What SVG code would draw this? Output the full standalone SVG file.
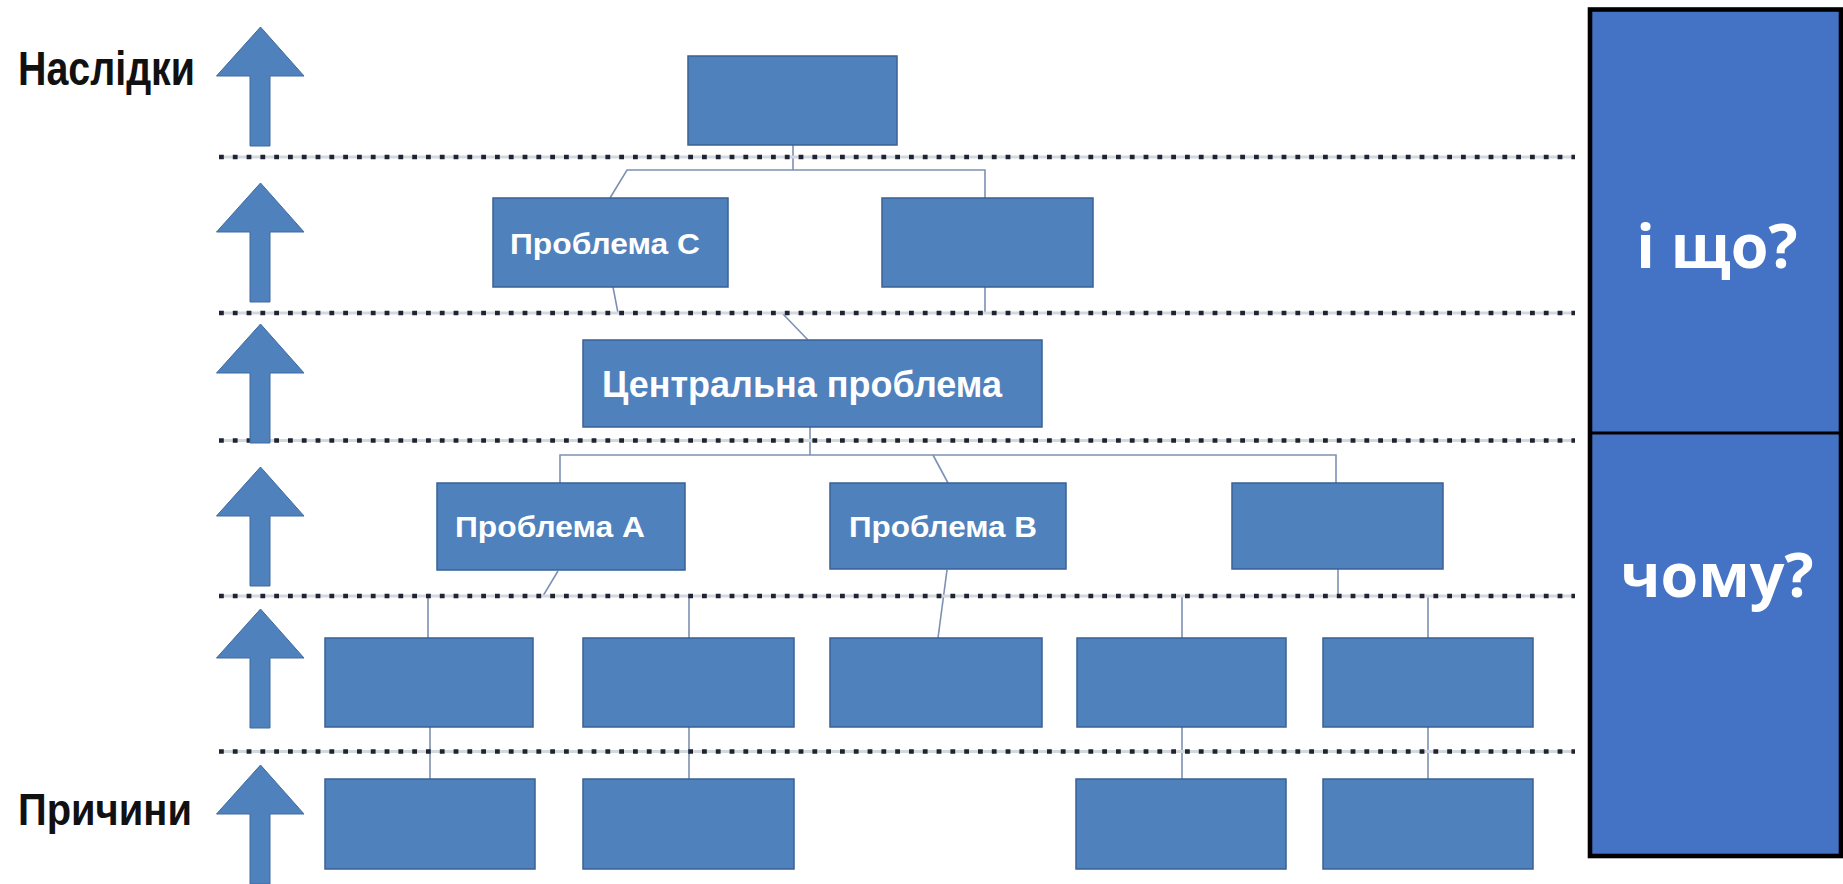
<svg xmlns="http://www.w3.org/2000/svg" xmlns:xlink="http://www.w3.org/1999/xlink" width="1843" height="884" viewBox="0 0 1843 884">
  <style>
    .box { fill: #4F81BD; stroke: #3A6294; stroke-width: 1.5; }
    .lbl { font-family: "Liberation Sans", Arial, sans-serif; font-weight: bold; fill: #FFFFFF; }
    .side { font-family: "Liberation Sans", Arial, sans-serif; font-weight: bold; fill: #111111; }
    .dotsbg { stroke: #D3D7DE; stroke-width: 3; fill: none; }
    .dots { stroke: #1E2432; stroke-width: 4.6; stroke-dasharray: 4.8 9; fill: none; }
    .conn { stroke: #7D91B3; stroke-width: 1.6; fill: none; }
    .arrow { fill: #4F81BD; stroke: #3F6AA0; stroke-width: 1; }
    .panel { fill: #4472C4; stroke: #000000; stroke-width: 4.6; }
    .ptxt { font-family: "Open Sans", "Noto Sans", sans-serif; font-weight: bold; fill: #FFFFFF; font-size: 61px; text-anchor: middle; }
  </style>
  <defs>
    <path id="uparrow" d="M0,0 L43.5,49 L9.5,49 L9.5,119 L-10.5,119 L-10.5,49 L-44,49 Z"/>
  </defs>
  <rect x="0" y="0" width="1843" height="884" fill="#FFFFFF"/>

  <!-- connectors (drawn under the dotted lines) -->
  <g id="connectors">
    <path class="conn" d="M793,145 V170"/>
    <path class="conn" d="M610,198 L627,170 H985 V198"/>
    <path class="conn" d="M613,287 L618,313 H782 L808,340"/>
    <path class="conn" d="M985,287 V313 H782"/>
    <path class="conn" d="M810,427 V455"/>
    <path class="conn" d="M560,483 V455 H1336 V483"/>
    <path class="conn" d="M933,455 L948,483"/>
    <path class="conn" d="M558,571 L543,596 H428"/>
    <path class="conn" d="M428,638 V596 H689 V638"/>
    <path class="conn" d="M947,570 L938,638"/>
    <path class="conn" d="M1338,569 V596"/>
    <path class="conn" d="M1182,638 V596 H1428 V638"/>
    <path class="conn" d="M430,727 V779"/>
    <path class="conn" d="M689,727 V779"/>
    <path class="conn" d="M1182,727 V779"/>
    <path class="conn" d="M1428,727 V779"/>
  </g>

  <g id="separators">
    <line class="dotsbg" x1="219" y1="157" x2="1575" y2="157"/>
    <line class="dotsbg" x1="219" y1="313" x2="1575" y2="313"/>
    <line class="dotsbg" x1="219" y1="440.5" x2="1575" y2="440.5"/>
    <line class="dotsbg" x1="219" y1="596" x2="1575" y2="596"/>
    <line class="dotsbg" x1="219" y1="751.5" x2="1575" y2="751.5"/>
    <line class="dots" x1="219" y1="157" x2="1575" y2="157"/>
    <line class="dots" x1="219" y1="313" x2="1575" y2="313"/>
    <line class="dots" x1="219" y1="440.5" x2="1575" y2="440.5"/>
    <line class="dots" x1="219" y1="596" x2="1575" y2="596"/>
    <line class="dots" x1="219" y1="751.5" x2="1575" y2="751.5"/>
  </g>

  <g id="arrows">
    <use xlink:href="#uparrow" href="#uparrow" class="arrow" transform="translate(260.5,27)"/>
    <use xlink:href="#uparrow" href="#uparrow" class="arrow" transform="translate(260.5,183)"/>
    <use xlink:href="#uparrow" href="#uparrow" class="arrow" transform="translate(260.5,324)"/>
    <use xlink:href="#uparrow" href="#uparrow" class="arrow" transform="translate(260.5,467)"/>
    <use xlink:href="#uparrow" href="#uparrow" class="arrow" transform="translate(260.5,609)"/>
    <use xlink:href="#uparrow" href="#uparrow" class="arrow" transform="translate(260.5,765)"/>
  </g>

  <g id="label-nasl">
    <text class="side" x="18" y="85" font-size="48" textLength="177" lengthAdjust="spacingAndGlyphs">Наслідки</text>
  </g>
  <g id="label-prych">
    <text class="side" x="18" y="825" font-size="45" textLength="174" lengthAdjust="spacingAndGlyphs">Причини</text>
  </g>

  <g id="n-top"><rect class="box" x="688" y="56" width="209" height="89"/></g>
  <g id="n-problem-c">
    <rect class="box" x="493" y="198" width="235" height="89"/>
    <text class="lbl" x="510" y="254" font-size="30" textLength="190" lengthAdjust="spacingAndGlyphs">Проблема С</text>
  </g>
  <g id="n-l2-right"><rect class="box" x="882" y="198" width="211" height="89"/></g>
  <g id="n-central">
    <rect class="box" x="583" y="340" width="459" height="87"/>
    <text class="lbl" x="602" y="397" font-size="37" textLength="400" lengthAdjust="spacingAndGlyphs">Центральна проблема</text>
  </g>
  <g id="n-problem-a">
    <rect class="box" x="437" y="483" width="248" height="87"/>
    <text class="lbl" x="455" y="537" font-size="30" textLength="190" lengthAdjust="spacingAndGlyphs">Проблема А</text>
  </g>
  <g id="n-problem-b">
    <rect class="box" x="830" y="483" width="236" height="86"/>
    <text class="lbl" x="849" y="537" font-size="30" textLength="188" lengthAdjust="spacingAndGlyphs">Проблема В</text>
  </g>
  <g id="n-l4-right"><rect class="box" x="1232" y="483" width="211" height="86"/></g>
  <g id="n-l5-1"><rect class="box" x="325" y="638" width="208" height="89"/></g>
  <g id="n-l5-2"><rect class="box" x="583" y="638" width="211" height="89"/></g>
  <g id="n-l5-3"><rect class="box" x="830" y="638" width="212" height="89"/></g>
  <g id="n-l5-4"><rect class="box" x="1077" y="638" width="209" height="89"/></g>
  <g id="n-l5-5"><rect class="box" x="1323" y="638" width="210" height="89"/></g>
  <g id="n-l6-1"><rect class="box" x="325" y="779" width="210" height="90"/></g>
  <g id="n-l6-2"><rect class="box" x="583" y="779" width="211" height="90"/></g>
  <g id="n-l6-4"><rect class="box" x="1076" y="779" width="210" height="90"/></g>
  <g id="n-l6-5"><rect class="box" x="1323" y="779" width="210" height="90"/></g>

  <g id="panel">
    <rect class="panel" x="1590" y="9.5" width="251" height="846.5"/>
    <line x1="1590" y1="433" x2="1841" y2="433" stroke="#000000" stroke-width="3"/>
  </g>
  <g id="panel-top"><text class="ptxt" x="1717" y="268">і що?</text></g>
  <g id="panel-bottom"><text class="ptxt" x="1717" y="597">чому?</text></g>
</svg>
